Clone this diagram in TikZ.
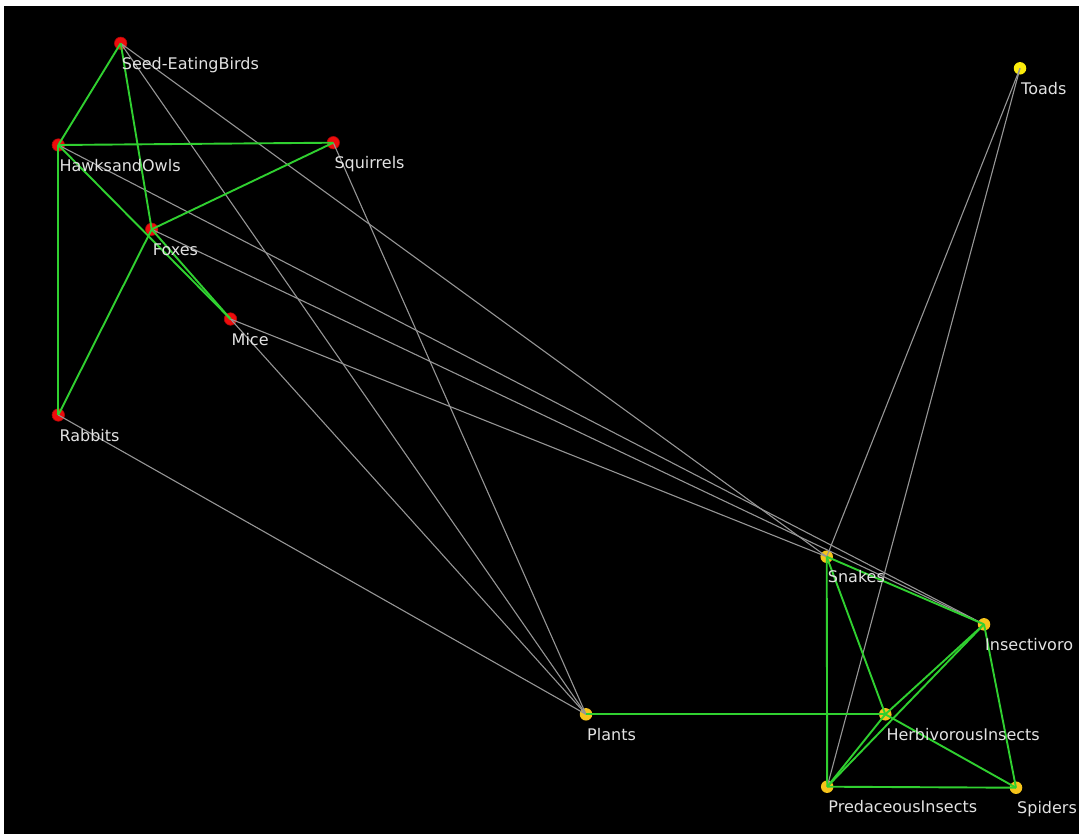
\documentclass[tikz,border=0pt]{standalone}
\usepackage{fontspec}
\setmainfont{DejaVu Sans}
\definecolor{nodered}{RGB}{238,12,12}
\definecolor{nodegold}{RGB}{246,196,26}
\definecolor{toadyellow}{RGB}{252,236,12}
\definecolor{feedgreen}{RGB}{48,208,48}
\definecolor{crossgray}{RGB}{150,150,150}
\definecolor{labelgray}{RGB}{226,226,226}
\begin{document}
\begin{tikzpicture}[x=1pt,y=-1pt,
  animal/.style={circle,inner sep=0pt,minimum size=12.5pt},
  upper/.style={animal,fill=nodered,draw=nodered!70!black,line width=0.6pt},
  lower/.style={animal,fill=nodegold},
  toad/.style={animal,fill=toadyellow},
  lbl/.style={anchor=base west,inner sep=0pt,text=labelgray,font=\fontsize{16}{19}\selectfont},
  link/.style={crossgray,line width=1.1pt},
  feed/.style={feedgreen,line width=1.9pt}]
\useasboundingbox (0,0) rectangle (1079,835);
\fill[white] (0,0) rectangle (1079,835);
\fill[black] (4,6) rectangle (1079,834);

% species
\node[upper] (seed) at (120.7,43.3) {};
\node[upper] (hawk) at (58.3,145) {};
\node[upper] (squi) at (333.3,142.7) {};
\node[upper] (foxe) at (151.7,229.3) {};
\node[upper] (mice) at (230.5,319) {};
\node[upper] (rabb) at (58.3,415) {};
\node[toad]  (toad) at (1020,68.3) {};
\node[lower] (snak) at (826.7,556.7) {};
\node[lower] (inse) at (984,624.3) {};
\node[lower] (herb) at (885.3,714.3) {};
\node[lower] (plan) at (586,714.3) {};
\node[lower] (pred) at (827.2,786.7) {};
\node[lower] (spid) at (1016,787.7) {};

% links between the two groups
\draw[link] (rabb.center) -- (plan.center);
\draw[link] (mice.center) -- (plan.center);
\draw[link] (squi.center) -- (plan.center);
\draw[link] (seed.center) -- (plan.center);
\draw[link] (seed.center) -- (snak.center);
\draw[link] (mice.center) -- (snak.center);
\draw[link] (hawk.center) -- (inse.center);
\draw[link] (foxe.center) -- (inse.center);
\draw[link] (toad.center) -- (snak.center);
\draw[link] (toad.center) -- (pred.center);

% links inside each group
\draw[feed] (seed.center) -- (hawk.center);
\draw[feed] (seed.center) -- (foxe.center);
\draw[feed] (hawk.center) -- (squi.center);
\draw[feed] (hawk.center) -- (rabb.center);
\draw[feed] (hawk.center) -- (mice.center);
\draw[feed] (foxe.center) -- (mice.center);
\draw[feed] (squi.center) -- (foxe.center);
\draw[feed] (foxe.center) -- (rabb.center);
\draw[feed] (plan.center) -- (herb.center);
\draw[feed] (snak.center) -- (inse.center);
\draw[feed] (snak.center) -- (pred.center);
\draw[feed] (snak.center) -- (herb.center);
\draw[feed] (inse.center) -- (herb.center);
\draw[feed] (inse.center) -- (pred.center);
\draw[feed] (inse.center) -- (spid.center);
\draw[feed] (herb.center) -- (pred.center);
\draw[feed] (herb.center) -- (spid.center);
\draw[feed] (pred.center) -- (spid.center);

% names
\path (seed) ++(1,26) node[lbl] (seedL) {Seed-EatingBirds};
\path (hawk) ++(1,26) node[lbl] (hawkL) {HawksandOwls};
\path (squi) ++(1,26) node[lbl] (squiL) {Squirrels};
\path (foxe) ++(1,26) node[lbl] (foxeL) {Foxes};
\path (mice) ++(1,26) node[lbl] (miceL) {Mice};
\path (rabb) ++(1,26) node[lbl] (rabbL) {Rabbits};
\path (toad) ++(1,26) node[lbl] (toadL) {Toads};
\path (snak) ++(1,26) node[lbl] (snakL) {Snakes};
\path (inse) ++(1,26) node[lbl] (inseL) {Insectivoro};
\path (herb) ++(1,26) node[lbl] (herbL) {HerbivorousInsects};
\path (plan) ++(1,26) node[lbl] (planL) {Plants};
\path (pred) ++(1,26) node[lbl] (predL) {PredaceousInsects};
\path (spid) ++(1,26) node[lbl] (spidL) {Spiders};
\end{tikzpicture}
\end{document}
